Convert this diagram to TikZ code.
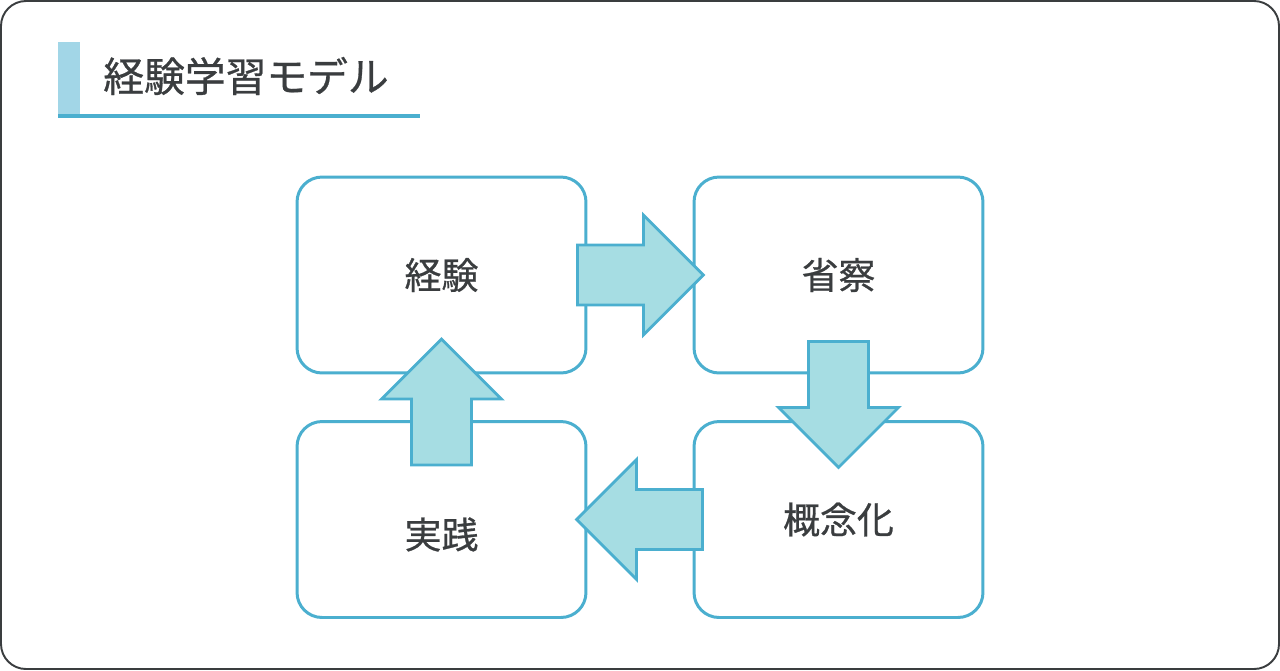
\documentclass[tikz,border=0pt]{standalone}
\usepackage{fontspec}
\newfontfamily\jpfont[FakeBold=0.7]{Noto Sans CJK JP}
\usetikzlibrary{calc}
\definecolor{cyclestroke}{HTML}{4BAFCF}
\definecolor{cyclefill}{HTML}{A6DDE3}
\definecolor{barfill}{HTML}{A2D6E7}
\definecolor{inkgray}{HTML}{3A3D3F}
\tikzset{
	stage/.style={draw=cyclestroke, line width=1.7pt, rounded corners=0.5cm, fill=white,
		minimum width=5.78cm, minimum height=3.92cm, inner sep=0pt},
	stagetext/.style={text=inkgray, font=\jpfont\fontsize{21}{25}\selectfont},
	blockarrow/.style={draw=cyclestroke, fill=cyclefill, line width=1.6pt, line join=miter}
}
% block arrow: tail point, direction angle
\def\cyclearrow(#1)(#2){\draw[blockarrow, shift={(#1)}, rotate=#2] (0,-30) -- (66,-30) -- (66,-60) -- (126,0) -- (66,60) -- (66,30) -- (0,30) -- cycle;}

\begin{document}
\begin{tikzpicture}[x=0.02cm, y=-0.02cm]
		%%%%% START %%%%%
		\useasboundingbox (0, 0) rectangle (1280, 670);
		\draw[inkgray, line width=1.1pt, rounded corners=0.5cm] (1, 1) rectangle (1279, 669);
		
		% title
		\fill[barfill] (58, 42) rectangle (80, 116);
		\fill[cyclestroke] (58, 114) rectangle (420, 118);
		\node[anchor=west, inner sep=0pt, text=inkgray, font=\jpfont\fontsize{23.2}{27}\selectfont] (title) at (103, 76) {経験学習モデル};
		
		% stages
		\node[stage] (exp) at (441.5, 275) {};
		\node[stage] (refl) at (838.5, 275) {};
		\node[stage] (prac) at (441.5, 519.5) {};
		\node[stage] (conc) at (838.5, 519.5) {};
		
		\node[stagetext] (exptext) at (exp) {経験};
		\node[stagetext] (refltext) at (refl) {省察};
		\node[stagetext] (practext) at ($(prac)+(0, 15)$) {実践};
		\node[stagetext] (conctext) at (conc) {概念化};
		
		% cycle arrows
		\cyclearrow($(exp.east)+(-10, 0)$)(0)
		\cyclearrow($(refl.south)+(0, -33)$)(-90)
		\cyclearrow($(conc.west)+(10, 0)$)(180)
		\cyclearrow($(prac.north)+(0, 45)$)(90)
		%%%%% END %%%%%
\end{tikzpicture}
\end{document}
